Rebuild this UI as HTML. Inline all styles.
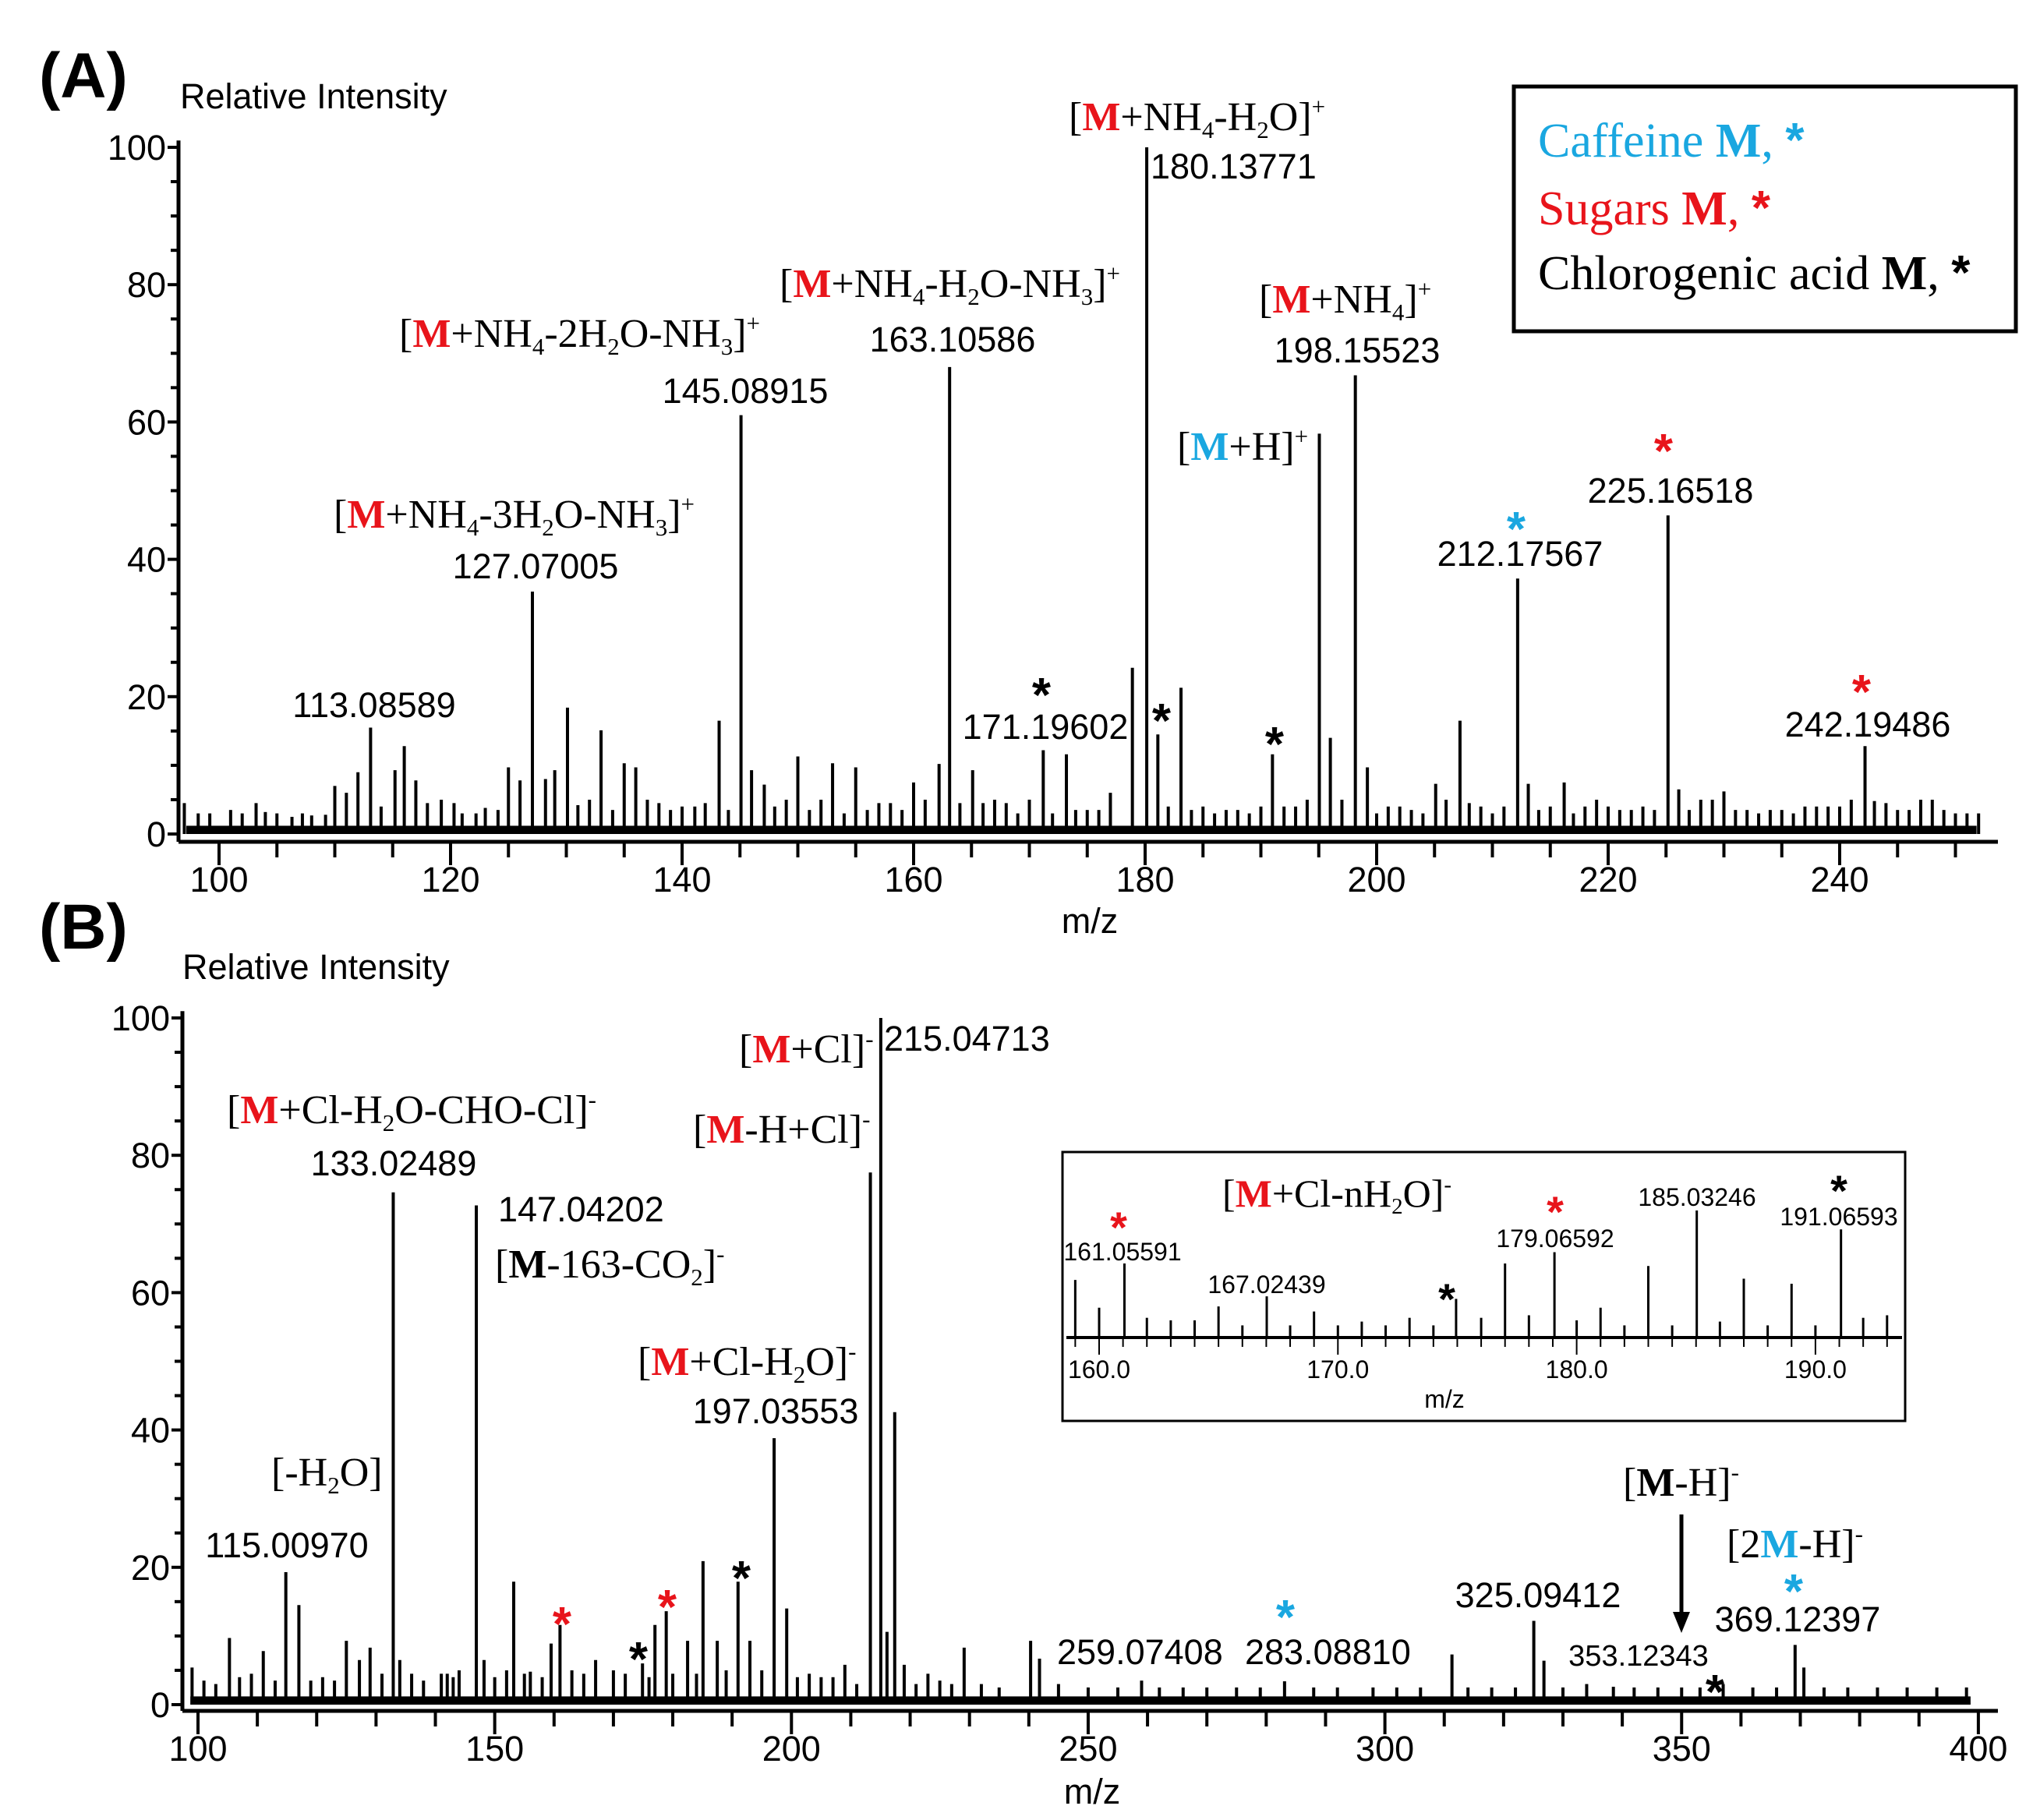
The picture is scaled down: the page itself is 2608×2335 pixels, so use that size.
<!DOCTYPE html>
<html><head><meta charset="utf-8"><style>
html,body{margin:0;padding:0;background:#fff;}
svg{display:block;}
.s{font-family:"Liberation Sans",sans-serif;}
.r{font-family:"Liberation Serif",serif;}
</style></head><body>
<svg id="fig" width="2608" height="2335" viewBox="0 0 2608 2335" xmlns="http://www.w3.org/2000/svg">
<g id="gA"></g>
<g id="gB"></g>
<g id="gI"></g>

<text class="s" x="50" y="125" font-size="82" font-weight="bold">(A)</text>
<text class="s" x="231" y="139" font-size="45">Relative Intensity</text>
<text class="s" x="1398" y="1197" font-size="45" text-anchor="middle">m/z</text>

<g class="r" font-size="52">
<text x="1371" y="167">[<tspan fill="#e8141b" font-weight="bold">M</tspan>+NH<tspan font-size="31" dy="10">4</tspan><tspan dy="-10">-H</tspan><tspan font-size="31" dy="10">2</tspan><tspan dy="-10">O]</tspan><tspan font-size="31" dy="-20">+</tspan></text>
<text x="1000" y="381">[<tspan fill="#e8141b" font-weight="bold">M</tspan>+NH<tspan font-size="31" dy="10">4</tspan><tspan dy="-10">-H</tspan><tspan font-size="31" dy="10">2</tspan><tspan dy="-10">O-NH</tspan><tspan font-size="31" dy="10">3</tspan><tspan dy="-10">]</tspan><tspan font-size="31" dy="-20">+</tspan></text>
<text x="512" y="445">[<tspan fill="#e8141b" font-weight="bold">M</tspan>+NH<tspan font-size="31" dy="10">4</tspan><tspan dy="-10">-2H</tspan><tspan font-size="31" dy="10">2</tspan><tspan dy="-10">O-NH</tspan><tspan font-size="31" dy="10">3</tspan><tspan dy="-10">]</tspan><tspan font-size="31" dy="-20">+</tspan></text>
<text x="1615" y="401">[<tspan fill="#e8141b" font-weight="bold">M</tspan>+NH<tspan font-size="31" dy="10">4</tspan><tspan dy="-10">]</tspan><tspan font-size="31" dy="-20">+</tspan></text>
<text x="1510" y="590">[<tspan fill="#1aa7e0" font-weight="bold">M</tspan>+H]<tspan font-size="31" dy="-20">+</tspan></text>
<text x="428" y="677">[<tspan fill="#e8141b" font-weight="bold">M</tspan>+NH<tspan font-size="31" dy="10">4</tspan><tspan dy="-10">-3H</tspan><tspan font-size="31" dy="10">2</tspan><tspan dy="-10">O-NH</tspan><tspan font-size="31" dy="10">3</tspan><tspan dy="-10">]</tspan><tspan font-size="31" dy="-20">+</tspan></text>
</g>
<g class="s" font-size="45">
<text x="1476" y="229">180.13771</text>
<text x="1222" y="451" text-anchor="middle">163.10586</text>
<text x="956" y="517" text-anchor="middle">145.08915</text>
<text x="1741" y="465" text-anchor="middle">198.15523</text>
<text x="2143" y="645" text-anchor="middle">225.16518</text>
<text x="1950" y="726" text-anchor="middle">212.17567</text>
<text x="687" y="742" text-anchor="middle">127.07005</text>
<text x="480" y="920" text-anchor="middle">113.08589</text>
<text x="1341" y="948" text-anchor="middle">171.19602</text>
<text x="2396" y="945" text-anchor="middle">242.19486</text>
</g>
<g class="s" font-size="62" font-weight="bold" text-anchor="middle">
<text x="2134" y="600" fill="#e8141b">*</text>
<text x="1945" y="700" fill="#1aa7e0">*</text>
<text x="1336" y="913">*</text>
<text x="1490" y="946">*</text>
<text x="1635" y="976">*</text>
<text x="2388" y="909" fill="#e8141b">*</text>
</g>
<g>
<rect x="1942" y="111" width="644" height="314" fill="#fff" stroke="#000" stroke-width="5"/>
<g class="r" font-size="62">
<text x="1973" y="201" fill="#1aa7e0">Caffeine <tspan font-weight="bold">M</tspan>, <tspan class="s" font-weight="bold">*</tspan></text>
<text x="1973" y="288" fill="#e8141b">Sugars <tspan font-weight="bold">M</tspan>, <tspan class="s" font-weight="bold">*</tspan></text>
<text x="1973" y="371" fill="#000">Chlorogenic acid <tspan font-weight="bold">M</tspan>, <tspan class="s" font-weight="bold">*</tspan></text>
</g>
</g>

<text class="s" x="50" y="1217" font-size="82" font-weight="bold">(B)</text>
<text class="s" x="234" y="1256" font-size="45">Relative Intensity</text>
<text class="s" x="1401" y="2314" font-size="45" text-anchor="middle">m/z</text>
<g class="r" font-size="52">
<text x="948" y="1363">[<tspan fill="#e8141b" font-weight="bold">M</tspan>+Cl]<tspan font-size="31" dy="-20">-</tspan></text>
<text x="291" y="1441">[<tspan fill="#e8141b" font-weight="bold">M</tspan>+Cl-H<tspan font-size="31" dy="10">2</tspan><tspan dy="-10">O-CHO-Cl]</tspan><tspan font-size="31" dy="-20">-</tspan></text>
<text x="889" y="1466">[<tspan fill="#e8141b" font-weight="bold">M</tspan>-H+Cl]<tspan font-size="31" dy="-20">-</tspan></text>
<text x="635" y="1639">[<tspan font-weight="bold">M</tspan>-163-CO<tspan font-size="31" dy="10">2</tspan><tspan dy="-10">]</tspan><tspan font-size="31" dy="-20">-</tspan></text>
<text x="818" y="1764">[<tspan fill="#e8141b" font-weight="bold">M</tspan>+Cl-H<tspan font-size="31" dy="10">2</tspan><tspan dy="-10">O]</tspan><tspan font-size="31" dy="-20">-</tspan></text>
<text x="348" y="1906">[-H<tspan font-size="31" dy="10">2</tspan><tspan dy="-10">O]</tspan></text>
<text x="2082" y="1919">[<tspan font-weight="bold">M</tspan>-H]<tspan font-size="31" dy="-20">-</tspan></text>
<text x="2215" y="1998">[2<tspan fill="#1aa7e0" font-weight="bold">M</tspan>-H]<tspan font-size="31" dy="-20">-</tspan></text>
</g>
<g class="s" font-size="45">
<text x="1134" y="1348">215.04713</text>
<text x="505" y="1508" text-anchor="middle">133.02489</text>
<text x="639" y="1567">147.04202</text>
<text x="995" y="1826" text-anchor="middle">197.03553</text>
<text x="368" y="1998" text-anchor="middle">115.00970</text>
<text x="1356" y="2135">259.07408</text>
<text x="1597" y="2135">283.08810</text>
<text x="1973" y="2062" text-anchor="middle">325.09412</text>
<text x="2102" y="2137" text-anchor="middle" font-size="38">353.12343</text>
<text x="2306" y="2093" text-anchor="middle">369.12397</text>
</g>
<g class="s" font-size="62" font-weight="bold" text-anchor="middle">
<text x="721" y="2105" fill="#e8141b">*</text>
<text x="856" y="2083" fill="#e8141b">*</text>
<text x="951" y="2046">*</text>
<text x="819" y="2150">*</text>
<text x="1649" y="2096" fill="#1aa7e0">*</text>
<text x="2200" y="2192">*</text>
<text x="2301" y="2063" fill="#1aa7e0">*</text>
</g>
<g>
<line x1="2157" y1="1943" x2="2157" y2="2075" stroke="#000" stroke-width="5"/>
<polygon points="2146,2068 2168,2068 2157,2095" fill="#000"/>
</g>

<rect x="1363" y="1478" width="1081" height="345" fill="none" stroke="#000" stroke-width="3"/>
<text class="r" x="1568" y="1548" font-size="50">[<tspan fill="#e8141b" font-weight="bold">M</tspan>+Cl-nH<tspan font-size="29" dy="9">2</tspan><tspan dy="-9">O]</tspan><tspan font-size="29" dy="-19">-</tspan></text>
<g class="s" font-size="32" text-anchor="middle">
<text x="1440" y="1617">161.05591</text>
<text x="1625" y="1659">167.02439</text>
<text x="1995" y="1600">179.06592</text>
<text x="2177" y="1547">185.03246</text>
<text x="2359" y="1572">191.06593</text>
</g>
<g class="s" font-size="56" font-weight="bold" text-anchor="middle">
<text x="1435" y="1594" fill="#e8141b">*</text>
<text x="1856" y="1686">*</text>
<text x="1995" y="1574" fill="#e8141b">*</text>
<text x="2359" y="1547">*</text>
</g>
<text class="s" x="1853" y="1806" font-size="32" text-anchor="middle">m/z</text>
</svg>
<script>
const aMz = [113.09,116.0,115.2,117.0,127.07,125.0,130.1,129.0,128.2,133.0,135.0,136.0,143.2,145.09,146.0,147.1,150.0,153.0,155.0,160.0,162.2,163.11,165.1,171.2,173.2,178.9,180.14,181.1,183.1,191.0,195.05,196.0,198.16,199.2,207.2,205.1,212.18,213.1,216.2,225.17,226.1,230.0,242.19,243.0];
const aInt = [15.5,12.8,9.3,7.8,35.3,9.7,18.4,9.3,8.0,15.1,10.3,9.7,16.5,61,9.3,7.2,11.3,10.3,9.7,7.5,10.2,68,9.3,12.2,11.6,24.2,100,14.5,21.3,11.6,58.3,14,66.8,9.7,16.5,7.3,37.2,7.3,7.5,46.4,6.5,6.2,12.8,4.8];
const aSmallMz = [97,98.2,99.2,101,102,103.2,104,105,106.3,107.2,108,109.2,110,111,112,114,118,119.2,120.3,121,122.2,123,124.1,126,131,132,134,137,138,139,140,141.1,142,144,148,149,151,152,154,156,157,158,159,161,164,166,167,168,169,170,172,174,175,176,177,182,184,185,186,187,188,189,190,192,193,194,197,200,201,202,203,204,206,208,209,210,211,214,215,217,218,219,220,221,222,223,224,227,228,229,231,232,233,234,235,236,237,238,239,240,241,244,245,246,247,248,249,250,251,252];
const aSmallInt = [4.5,3,3,3.5,3,4.5,3.2,3,2.5,3,2.7,2.8,7,6,9,4,4.5,5,4.5,3,3,3.8,3.5,7.8,4.2,5,3.5,5,4.5,3.5,4,4,4.5,3.5,4,5,3.5,5,3,3.5,4.5,4.5,3.5,5,4.5,4.5,5,4.5,3,5,3,3.5,3.5,3.5,6,4,3.5,4,3,3.5,3.5,3,4,4,4,5,5,3,4,4,3.5,3,5,4.5,4,3,4,3.5,4,3,4,5,4,3.5,3.5,4,3.5,3.5,5,5,3.5,3.5,3,3.5,3.5,3,4,4,4,4,5,4.5,3.5,3.5,5,5,3.5,3,3,3];
const aXTicks = [100,120,140,160,180,200,220,240];
const aYTicks = [0,20,40,60,80,100];

const bMz = [99.0,105.3,111.0,114.8,117.0,125.0,127.2,129.0,132.9,134.0,146.9,148.2,153.2,156.0,159.5,161.0,167.0,174.9,177.0,178.9,182.5,185.1,187.5,191.0,193.0,197.08,199.2,209.0,213.3,215.05,216.1,217.4,219.0,229.1,240.3,241.8,259.0,283.09,311.3,325.09,326.8,338.5,353.1,369.12,370.6];
const bInt = [5.4,9.7,7.8,19.3,14.5,9.3,6.5,8.3,74.6,6.5,72.7,6.5,17.9,4.8,8.9,11.6,6.5,6.0,11.6,13.6,9.3,20.9,9.3,17.9,9.3,38.8,14,5.8,77.5,100,10.6,42.6,5.8,8.3,9.3,6.7,3.5,3.4,7.3,12.2,6.4,2.6,2.5,8.7,5.4];
const bSmallMz = [101,103,107,109,113,119,121,123,131,136,138,141,142,143,144,150,152,155,158,163,165,170,172,176,180,184,189,195,201,203,205,207,211,221,223,225,227,232,235,245,250,255,262,266,270,275,279,288,292,298,302,306,314,318,322,330,334,342,346,350,357,362,366,374,378,383,388,393,398];
const bSmallInt = [3.5,3,4,4.5,3.5,3.5,4,3.5,4.5,4.5,3.5,4.5,4.5,4,5,4,5,4.5,4,5,4.5,5,4.5,4,4.5,4.5,5,5,4,4.5,4,4,3,3,4.5,3.5,3,3,2.5,3,2.5,2.5,2.5,2.5,2.5,2.5,2.5,2.5,2.5,2.5,2.5,2.5,2.5,2.5,2.5,2.5,3,2.5,2.5,2.5,3,2.5,2.5,2.5,2.5,2.5,2.5,2.5,2.5];
const bXTicks = [100,150,200,250,300,350,400];
const bYTicks = [0,20,40,60,80,100];

const iMz = [159.0,160.0,161.06,162.0,163.0,164.0,165.0,166.0,167.02,168.0,169.0,170.0,171.0,172.0,173.0,174.0,174.95,176.0,177.0,178.0,179.07,180.0,181.0,182.0,183.0,184.0,185.03,186.0,187.0,188.0,189.0,190.0,191.07,192.0,193.0];
const iInt = [45,23,58,15,13,13,24,9,32,9,20,9,12,9,15,9,30,15,58,17,67,13,23,9,56,9,100,12,46,9,42,9,85,15,17];
const iXTicks = [160,170,180,190];
const iXTickLabels = ["160.0","170.0","180.0","190.0"];

const NS = "http://www.w3.org/2000/svg";
function mk(tag, attrs, parent){const e=document.createElementNS(NS,tag);for(const k in attrs)e.setAttribute(k,attrs[k]);parent.appendChild(e);return e;}

const xA = m => 281 + (m-100)*14.85;
const yA = v => 1070 - v*8.81;
const xB = m => 254 + (m-100)*7.613;
const yB = v => 2187 - v*8.81;
const xI = m => 1410 + (m-160)*30.63;
const yI = v => 1715 - v*1.62;

function drawPanel(g, xf, yf, mzs, ints, smz, sint, xmin, xmax, axY, yAxX, xTicks, xMinorStep, yTicks, pre){
  const band = mk('rect',{x:xf(xmin)+10,y:yf(1.2),width:xf(xmax)-xf(xmin)-20,height:yf(0)-yf(1.2),fill:'#000'},g);
  
  
  for(let i=0;i<smz.length;i++){
    const l = mk('line',{x1:xf(smz[i]),x2:xf(smz[i]),y1:yf(0),y2:yf(sint[i]),stroke:'#000','stroke-width':4},g);
    
    
  }
  for(let i=0;i<mzs.length;i++){
    const l = mk('line',{x1:xf(mzs[i]),x2:xf(mzs[i]),y1:yf(0),y2:yf(ints[i]),stroke:'#000','stroke-width':4},g);
    
    
  }
  const xa = mk('line',{x1:yAxX,x2:2563,y1:axY,y2:axY,stroke:'#000','stroke-width':5},g);
  
  
  const ya = mk('line',{x1:yAxX,x2:yAxX,y1:yf(101),y2:axY,stroke:'#000','stroke-width':5},g);
  
  
  for(let m=xTicks[0]; m<=xmax; m+=xMinorStep){
    const major = xTicks.indexOf(m)>=0;
    const t = mk('line',{x1:xf(m),x2:xf(m),y1:axY,y2:axY+(major?30:20),stroke:'#000','stroke-width':4},g);
    
    
  }
  xTicks.forEach(m=>{
    const t = mk('text',{x:xf(m),y:axY+64,'font-size':45,'text-anchor':'middle','class':'s'},g);
    t.textContent = m;
    
    
  });
  for(let v=0; v<=100; v+=5){
    const major = v%20===0;
    const t = mk('line',{x1:yAxX-(major?14:10),x2:yAxX,y1:yf(v),y2:yf(v),stroke:'#000','stroke-width':4},g);
    
    
  }
  yTicks.forEach(v=>{
    const t = mk('text',{x:yAxX-16,y:yf(v)+16,'font-size':45,'text-anchor':'end','class':'s'},g);
    t.textContent = v;
    
    
  });
}
drawPanel(document.getElementById('gA'), xA, yA, aMz, aInt, aSmallMz, aSmallInt, 96.5, 252.5, 1080, 229, aXTicks, 5, aYTicks, 'panel-a');
drawPanel(document.getElementById('gB'), xB, yB, bMz, bInt, bSmallMz, bSmallInt, 97.4, 400, 2195, 234, bXTicks, 10, bYTicks, 'panel-b');

(function(){
  const g = document.getElementById('gI');
  for(let i=0;i<iMz.length;i++){
    const l = mk('line',{x1:xI(iMz[i]),x2:xI(iMz[i]),y1:yI(0),y2:yI(iInt[i]),stroke:'#000','stroke-width':3},g);
    
    
  }
  const ax = mk('line',{x1:1368,x2:2440,y1:1716,y2:1716,stroke:'#000','stroke-width':4},g);
  
  
  for(let m=159; m<=193; m+=1){
    const t = mk('line',{x1:xI(m),x2:xI(m),y1:1716,y2:1716+(m%10===0?22:12),stroke:'#000','stroke-width':2},g);
    
    
  }
  iXTicks.forEach((m,i)=>{
    const t = mk('text',{x:xI(m),y:1768,'font-size':32,'text-anchor':'middle','class':'s'},g);
    t.textContent = iXTickLabels[i];
    
    
  });
})();
</script>
</body></html>
